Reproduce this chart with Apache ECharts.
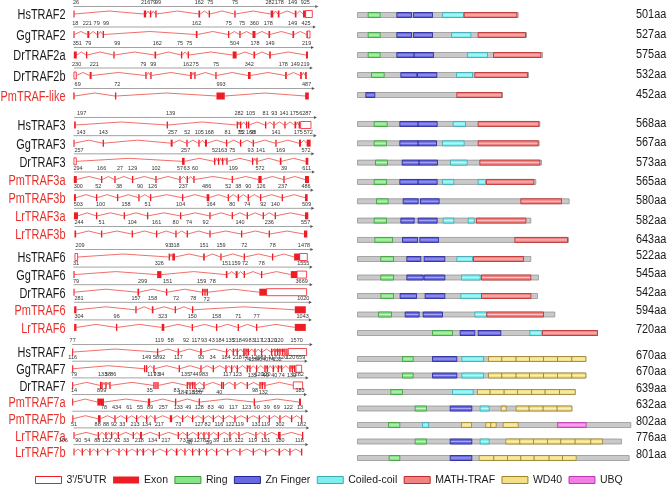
<!DOCTYPE html>
<html><head><meta charset="utf-8">
<script src="https://cdn.jsdelivr.net/npm/echarts@6/dist/echarts.min.js"></script>
<style>html,body{margin:0;padding:0;background:#fff}#c{width:669px;height:494px}</style>
</head><body><div id="c"></div><script>
const geneNames = ['HsTRAF2','GgTRAF2','DrTRAF2a','DrTRAF2b','PmTRAF-like','HsTRAF3','GgTRAF3','DrTRAF3','PmTRAF3a','PmTRAF3b','LrTRAF3a','LrTRAF3b','HsTRAF6','GgTRAF6','DrTRAF6','PmTRAF6','LrTRAF6','HsTRAF7','GgTRAF7','DrTRAF7','PmTRAF7a','PmTRAF7b','LrTRAF7a','LrTRAF7b'];
const familySizes = [5,7,5,7];
const proteinLength = [501,527,575,532,452,568,567,573,565,580,582,643,522,545,542,594,720,670,670,639,632,802,776,801];

// gene structure: exons [center, width] in relative gene position units
const exons = [
 [[222,3],[435,7],[452,4],[468,4],[598,5],[628,4],[705,4],[816,8],[836,5],[887,5],[913,8]],
 [[222,3],[265,6],[293,4],[310,4],[590,5],[686,4],[720,4],[762,9],[808,5],[880,5],[921,3]],
 [[226,9],[260,4],[342,4],[466,5],[545,4],[565,4],[704,12],[763,5],[810,5],[921,6]],
 [[272,6],[438,4],[453,4],[573,5],[585,4],[648,4],[748,8],[858,5],[903,5],[918,5]],
 [[222,4],[347,4],[662,25],[921,11]],
 [[225,5],[502,4],[712,4],[722,4],[740,4],[746,4],[797,4],[822,4],[855,4],[886,5],[898,4]],
 [[222,3],[310,4],[515,6],[561,4],[597,4],[618,6],[680,4],[722,4],[760,4],[828,4],[900,6],[926,12]],
 [[550,8],[644,4],[656,4],[668,4],[681,4],[758,4],[771,4],[842,5],[921,8]],
 [[226,9],[305,4],[345,4],[398,4],[468,4],[540,4],[562,4],[582,4],[697,4],[780,10],[852,4],[921,12]],
 [[225,6],[290,4],[353,4],[417,4],[452,4],[548,4],[624,8],[685,4],[715,4],[745,4],[782,4],[847,4],[919,8]],
 [[228,12],[290,4],[373,4],[443,4],[542,4],[630,4],[697,4],[742,4],[790,4],[826,4],[920,10]],
 [[226,5],[305,4],[397,4],[470,4],[528,4],[562,4],[630,4],[725,4],[808,4],[917,10]],
 [[508,4],[521,8],[612,5],[663,4],[733,4],[818,4],[891,17]],
 [[222,3],[478,13],[680,5],[710,6],[733,4],[785,4],[882,19]],
 [[222,3],[415,5],[500,4],[608,4],[615,4],[622,4],[789,22]],
 [[226,7],[408,4],[458,5],[526,4],[578,4],[901,33]],
 [[226,7],[350,4],[489,8],[577,4],[650,4],[715,4],[770,4],[901,33]],
 [[218,3],[473,4],[535,4],[603,5],[680,4],[700,4],[712,4],[732,5],[738,4],[745,5],[765,4],[785,4],[815,4],[825,4],[833,4],[840,4],[848,4],[855,4],[861,4]],
 [[218,3],[434,4],[440,4],[462,4],[538,4],[603,4],[640,4],[678,4],[695,4],[712,4],[742,4],[750,4],[770,4],[795,4],[802,4],[820,4],[835,4],[845,4],[870,4],[877,4],[884,4]],
 [[218,3],[302,4],[306,4],[318,4],[330,4],[462,4],[468,4],[474,4],[562,4],[570,4],[578,4],[585,4],[612,4],[665,4],[670,4],[705,4],[742,4],[780,4],[787,4],[795,4]],
 [[218,3],[302,20],[447,7],[527,4],[598,4],[763,4],[900,6]],
 [[218,2],[298,8],[345,4],[380,4],[410,4],[440,4],[465,4],[513,7],[548,4],[578,4],[610,4],[640,4],[670,4],[705,4],[742,4],[778,4],[808,4],[840,4],[875,4],[905,4]],
 [[222,3],[295,4],[318,4],[335,4],[355,4],[400,4],[423,6],[478,4],[535,4],[562,4],[595,4],[612,4],[627,4],[655,4],[690,4],[717,4],[768,4],[795,4],[838,8],[908,4]],
 [[222,3],[247,4],[270,4],[293,4],[323,4],[357,4],[380,4],[412,4],[430,5],[460,4],[500,4],[530,5],[555,4],[578,4],[598,4],[620,4],[650,4],[683,4],[720,4],[760,4],[797,4],[838,5],[870,4],[905,4]]
];
// untranslated regions [start, end]
const utrs = [
 [[917,937]],[[922,930]],[],[[222,229]],[],
 [[902,933]],[],[[222,229]],[],[],[],[],
 [[225,233],[899,922]],[[891,920]],[[800,920]],[],[],
 [[865,920]],[[888,905]],[[880,908]],[],[],[],[]
];
// exon size labels above the gene [position, text]
const topLabels = [
 [[228,'26'],[437,'216'],[459,'79'],[474,'99'],[598,'162'],[631,'75'],[705,'75'],[810,'282'],[838,'178'],[878,'149'],[916,'925']],
 [[226,'18'],[262,'221'],[290,'79'],[318,'99'],[590,'162'],[686,'75'],[726,'75'],[763,'360'],[805,'178'],[878,'149'],[918,'425']],
 [[232,'351'],[265,'79'],[352,'99'],[472,'162'],[540,'75'],[568,'75'],[704,'504'],[765,'178'],[810,'149'],[920,'219']],
 [[230,'230'],[283,'221'],[430,'79'],[460,'99'],[563,'162'],[587,'75'],[648,'75'],[748,'342'],[850,'178'],[886,'149'],[915,'219']],
 [[233,'69'],[352,'72'],[663,'993'],[920,'487']],
 [[245,'197'],[512,'139'],[717,'282'],[752,'105'],[797,'81'],[823,'93'],[852,'141'],[883,'175'],[916,'6287']],
 [[243,'143'],[310,'143'],[518,'257'],[562,'52'],[598,'105'],[628,'168'],[683,'81'],[722,'75'],[760,'93'],[828,'141'],[895,'175'],[925,'572']],
 [[237,'257'],[557,'257'],[645,'52'],[668,'163'],[697,'75'],[752,'93'],[782,'141'],[842,'169'],[918,'572']],
 [[234,'294'],[305,'166'],[360,'27'],[398,'129'],[468,'102'],[540,'57'],[560,'63'],[585,'60'],[700,'199'],[780,'572'],[852,'39'],[920,'611']],
 [[235,'300'],[295,'52'],[357,'38'],[420,'90'],[458,'126'],[550,'237'],[620,'486'],[685,'52'],[715,'38'],[745,'90'],[783,'126'],[848,'237'],[918,'486']],
 [[235,'503'],[302,'100'],[378,'158'],[443,'51'],[542,'104'],[633,'164'],[697,'80'],[742,'74'],[790,'92'],[826,'140'],[920,'509']],
 [[237,'244'],[305,'51'],[397,'104'],[470,'161'],[527,'80'],[567,'74'],[617,'92'],[720,'140'],[808,'236'],[917,'557']],
 [[240,'209'],[505,'93'],[525,'318'],[612,'151'],[663,'159'],[733,'72'],[818,'78'],[912,'1478']],
 [[228,'31'],[478,'326'],[680,'151'],[708,'159'],[735,'72'],[785,'78'],[910,'1555']],
 [[228,'79'],[428,'299'],[503,'151'],[605,'159'],[638,'78'],[905,'3669']],
 [[237,'281'],[408,'157'],[458,'158'],[528,'72'],[580,'78'],[910,'1020']],
 [[237,'304'],[350,'96'],[488,'323'],[577,'150'],[650,'158'],[715,'71'],[770,'77'],[908,'1043']],
 [[218,'77'],[478,'119'],[512,'58'],[558,'92'],[588,'117'],[612,'93'],[635,'43'],[660,'184'],[690,'135'],[712,'218'],[735,'49'],[755,'83'],[775,'117'],[797,'123'],[817,'120'],[837,'120'],[890,'1570']],
 [[218,'116'],[440,'149'],[468,'58'],[487,'92'],[535,'117'],[603,'93'],[638,'34'],[678,'184'],[712,'218'],[735,'74'],[767,'126'],[790,'83'],[818,'117'],[848,'120'],[872,'120'],[902,'659']],
 [[222,'79'],[308,'133'],[324,'58'],[340,'86'],[455,'117'],[470,'93'],[484,'34'],[557,'135'],[578,'74'],[596,'49'],[615,'83'],[682,'117'],[712,'123'],[777,'120'],[798,'120'],[893,'1282']],
 [[222,'14'],[305,'899'],[449,'35'],[530,'83'],[598,'122'],[765,'98'],[900,'183']],
 [[312,'78'],[350,'434'],[388,'61'],[420,'55'],[450,'89'],[490,'257'],[535,'133'],[565,'49'],[598,'128'],[632,'83'],[663,'40'],[700,'117'],[740,'123'],[770,'90'],[800,'39'],[830,'69'],[865,'122'],[900,'13']],
 [[222,'51'],[293,'88'],[318,'88'],[342,'92'],[367,'33'],[405,'213'],[440,'134'],[478,'217'],[535,'73'],[597,'127'],[623,'82'],[657,'116'],[690,'122'],[718,'119'],[768,'131'],[797,'119'],[840,'302'],[905,'182']],
 [[190,'106'],[235,'90'],[262,'54'],[292,'88'],[320,'122'],[352,'92'],[378,'33'],[418,'218'],[458,'134'],[498,'217'],[548,'73'],[570,'48'],[595,'127'],[618,'82'],[648,'39'],[682,'116'],[717,'122'],[758,'119'],[797,'131'],[840,'180'],[898,'118']]
];
// exon size labels below the gene
const bottomLabels = [
 [],[],[],[],[],
 [[725,'52'],[752,'168']],[],[],[],[],[],[],
 [],[],[[620,'72']],[],[],
 [[742,'74'],[760,'126'],[778,'40'],[796,'40'],[813,'74'],[832,'132']],
 [[757,'135'],[797,'49'],[823,'40'],[845,'74'],[875,'132']],
 [[548,'184'],[570,'218'],[592,'126'],[658,'40'],[790,'132']],
 [],[],[[567,'48'],[627,'39']],[]
];

// protein domain architecture (residue units along each drawn bar)
const proteinSpan = [482,507,555,513,435, 547,545,552,535,635,520,633, 520,543,540,592,720, 685,685,653,643,820,792,815];
const ringDomains = [[[32,68]],[[32,68]],[[32,68]],[[42,80]],[],
 [[50,89]],[[50,87]],[[54,90]],[[50,87]],[[57,92]],[[50,87]],[[52,105]],
 [[70,108]],[[70,108]],[[70,108]],[[63,102]],[[225,285]],
 [[135,167]],[[135,167]],[[100,135]],[[173,207]],[[93,127]],[[173,207]],[[95,127]]];
const znDomains = [[[118,162],[168,225]],[[118,162],[168,225]],[[118,170],[170,228]],[[130,178],[180,238]],[[25,52]],
 [[127,182],[182,239]],[[127,182],[182,237]],[[134,185],[185,240]],[[127,182],[182,239]],[[137,182],[189,245]],[[130,170],[182,239]],[[135,180],[187,243]],
 [[148,190],[200,262]],[[148,197],[200,262]],[[128,177],[203,262]],[[143,185],[197,255]],[[308,352],[362,430]],
 [[225,298]],[[225,298]],[],[[278,343]],[],[[278,343]],[[278,343]]];
const coiledCoil = [[[255,318]],[[282,340]],[[330,390]],[[297,345]],[],
 [[287,324]],[[255,320]],[[279,329]],[[255,289],[362,384]],[],[[257,289],[332,350]],[],
 [[298,345]],[[312,368]],[[310,372]],[[352,387]],[[517,553]],
 [[313,378]],[[313,378]],[[285,347]],[[368,395]],[[195,213]],[[368,395]],[]];
const mathTraf = [[[320,478]],[[362,504]],[[408,550]],[[352,510]],[[298,433]],
 [[362,544]],[[362,542]],[[367,547]],[[387,529]],[[490,612]],[[357,505]],[[472,630]],
 [[348,498]],[[372,520]],[[372,520]],[[388,558]],[[555,720]],
 [],[],[],[],[],[],[]];
const wd40Domains = [[],[],[],[],[], [],[],[],[],[],[],[], [],[],[],[],[],
 [[393,433],[433,476],[476,516],[516,558],[558,600],[600,643],[643,685]],
 [[393,433],[433,476],[476,516],[516,558],[558,600],[600,643],[643,685]],
 [[360,398],[398,440],[440,480],[480,522],[522,563],[563,606],[606,653]],
 [[431,446],[476,515],[515,557],[557,599],[599,643]],
 [[312,342],[385,400],[400,416],[437,482]],
 [[445,487],[487,528],[528,570],[570,610],[610,653],[653,700],[700,735]],
 [[365,409],[409,450],[450,490],[490,530],[530,575],[575,615],[615,656]]];
const ubqDomains = [[],[],[],[],[], [],[],[],[],[],[],[], [],[],[],[],[], [],[],[],[],[[600,686]],[],[]];

const FONT = "'Liberation Sans',Arial,sans-serif";
const RED = '#ee1c24';
const famStart = [];
familySizes.reduce((a,n,i)=>{famStart[i]=a;return a+n;},0);
const geneGridBox = [[3.75,102.5],[115.9,127.2],[248.2,88],[343.7,116.7]];
const protGridBox = [[5,100],[114.3,135.3],[249.75,92.5],[350.75,115.5]];

function famData(f){
  const out=[];
  for(let i=0;i<familySizes[f];i++) out.push([500,i,famStart[f]+i]);
  return out;
}

function nameRender(params, api){
  const gi = api.value(2), row = api.value(1);
  const y = api.coord([500,row])[1];
  const red = /^(Pm|Lr)/.test(geneNames[gi]);
  return {type:'text',x:65.5,y:y+1.5,scaleX:0.78,
    style:{text:geneNames[gi],x:0,y:0,align:'right',verticalAlign:'middle',fontSize:14,fontFamily:FONT,fill:red?'#e8302a':'#1a1a1a'}};
}
function geneRender(params, api){
  const gi = api.value(2), row = api.value(1);
  const y = api.coord([500,row])[1];
  const px = v => api.coord([v,row])[0];
  const feats = exons[gi].map(e=>[e[0]-e[1]/2,e[0]+e[1]/2])
     .concat(utrs[gi].map(u=>[u[0],u[1]])).sort((a,b)=>a[0]-b[0]);
  const start = feats[0][0], end = feats[feats.length-1][1];
  const ch = [];
  const ay = y - 7.5;
  const ax2 = px(end+9);
  ch.push({type:'line',shape:{x1:px(start),y1:ay,x2:ax2,y2:ay},style:{stroke:'#8c8c8c',lineWidth:0.8}});
  ch.push({type:'polygon',shape:{points:[[ax2,ay-1.6],[ax2+3,ay],[ax2,ay+1.6]]},style:{fill:'#555'}});
  for(let i=1;i<feats.length;i++){
    const a = feats[i-1][1], b = feats[i][0];
    if (b - a > 2){
      const xa=px(a), xb=px(b);
      ch.push({type:'polyline',shape:{points:[[xa,y],[(xa+xb)/2,y-3],[xb,y]]},style:{stroke:'#ec4a44',lineWidth:0.8,fill:null}});
    }
  }
  exons[gi].forEach(e=>{
    const x1=px(e[0]-e[1]/2), x2=px(e[0]+e[1]/2);
    ch.push({type:'rect',shape:{x:x1,y:y-3.5,width:Math.max(x2-x1,1.1),height:7},style:{fill:RED}});
  });
  topLabels[gi].forEach(l=>{
    ch.push({type:'text',style:{text:l[1],x:px(l[0]),y:ay-0.6,align:'center',verticalAlign:'bottom',fontSize:5.5,fill:'#333',fontFamily:FONT}});
  });
  bottomLabels[gi].forEach(l=>{
    ch.push({type:'text',style:{text:l[1],x:px(l[0]),y:y+4,align:'center',verticalAlign:'top',fontSize:5.5,fill:'#333',fontFamily:FONT}});
  });
  return {type:'group',children:ch};
}
function utrRender(params, api){
  const gi = api.value(2), row = api.value(1);
  const y = api.coord([500,row])[1];
  const px = v => api.coord([v,row])[0];
  return {type:'group',children:utrs[gi].map(u=>({type:'rect',shape:{x:px(u[0]),y:y-3.5,width:px(u[1])-px(u[0]),height:7},style:{fill:'#fff',stroke:RED,lineWidth:0.8}}))};
}
function barRender(params, api){
  const gi = api.value(2), row = api.value(1);
  const p0 = api.coord([0,row]), p1 = api.coord([proteinSpan[gi],row]);
  const lift = gi >= famStart[2] ? 3.5 : 0.5;
  return {type:'group',children:[
    {type:'rect',shape:{x:p0[0],y:p0[1]-2.5,width:p1[0]-p0[0],height:5},style:{fill:'#c9c9c9',stroke:'#8a8a8a',lineWidth:0.7}},
    {type:'text',x:636,y:p0[1]-lift,scaleX:0.87,style:{text:proteinLength[gi]+'aa',x:0,y:0,align:'left',verticalAlign:'middle',fontSize:12.5,fontFamily:FONT,fill:'#1a1a1a'}}
  ]};
}
function domainRender(arr, fill, stroke, light){
  return function(params, api){
    const gi = api.value(2), row = api.value(1);
    const ch=[];
    arr[gi].forEach(d=>{
      const a = api.coord([d[0],row]), b = api.coord([d[1],row]);
      ch.push({type:'rect',shape:{x:a[0],y:a[1]-2.5,width:b[0]-a[0],height:5},style:{fill:fill,stroke:stroke,lineWidth:0.8}});
      ch.push({type:'line',shape:{x1:a[0]+0.6,y1:a[1],x2:b[0]-0.6,y2:a[1]},style:{stroke:light,lineWidth:1}});
    });
    return {type:'group',children:ch};
  };
}

const domainTypes = [
  ['Ring', ringDomains, '#86e386', '#3c9c3c', '#c4f5c4'],
  ['Zn Finger', znDomains, '#6a6ae0', '#22229c', '#a8a8f4'],
  ['Coiled-coil', coiledCoil, '#7eeeee', '#3aaab4', '#c6fafa'],
  ['MATH-TRAF', mathTraf, '#f08484', '#c02a2a', '#fbc4c4'],
  ['WD40', wd40Domains, '#f3df88', '#9c8428', '#fbefc2'],
  ['UBQ', ubqDomains, '#f07ee4', '#c038b0', '#f9c4f2']
];

const grid=[], xAxis=[], yAxis=[], series=[];
for(let f=0;f<4;f++){
  grid.push({left:73.3,width:240,top:geneGridBox[f][0],height:geneGridBox[f][1],outerBoundsMode:'none',containLabel:false});
}
for(let f=0;f<4;f++){
  grid.push({left:357.5,width:276.5,top:protGridBox[f][0],height:protGridBox[f][1],outerBoundsMode:'none',containLabel:false});
}
for(let f=0;f<4;f++){
  const names = geneNames.slice(famStart[f],famStart[f]+familySizes[f]);
  xAxis.push({gridIndex:f,type:'value',min:220,max:940,show:false});
  yAxis.push({gridIndex:f,type:'category',inverse:true,data:names,show:false});
}
for(let f=0;f<4;f++){
  const names = geneNames.slice(famStart[f],famStart[f]+familySizes[f]);
  xAxis.push({gridIndex:4+f,type:'value',min:0,max:829.5,show:false});
  yAxis.push({gridIndex:4+f,type:'category',inverse:true,data:names,show:false});
}
for(let f=0;f<4;f++){
  series.push({type:'custom',name:'names',xAxisIndex:f,yAxisIndex:f,data:famData(f),renderItem:nameRender,
    encode:{x:0,y:1},silent:true,clip:false});
  series.push({type:'custom',name:"3'/5'UTR",xAxisIndex:f,yAxisIndex:f,data:famData(f),renderItem:utrRender,
    itemStyle:{color:'#fff',borderColor:RED},encode:{x:0,y:1},silent:true,clip:false});
  series.push({type:'custom',name:'Exon',xAxisIndex:f,yAxisIndex:f,data:famData(f),renderItem:geneRender,
    itemStyle:{color:RED},encode:{x:0,y:1},silent:true,z:3,clip:false});
  series.push({type:'custom',name:'protein',xAxisIndex:4+f,yAxisIndex:4+f,data:famData(f),renderItem:barRender,
    itemStyle:{color:'#c9c9c9'},encode:{x:0,y:1},silent:true,clip:false});
  domainTypes.forEach(d=>{
    series.push({type:'custom',name:d[0],xAxisIndex:4+f,yAxisIndex:4+f,data:famData(f),renderItem:domainRender(d[1],d[2],d[3],d[4]),
      itemStyle:{color:d[2]},encode:{x:0,y:1},silent:true,z:3,clip:false});
  });
}

const legendItems = [
  {name:"3'/5'UTR",itemStyle:{color:'#fff',borderColor:RED,borderWidth:1}},
  {name:'Exon',itemStyle:{color:RED,borderWidth:0}},
  {name:'Ring',itemStyle:{color:'#86e386',borderColor:'#3c9c3c',borderWidth:1}},
  {name:'Zn Finger',itemStyle:{color:'#6a6ae0',borderColor:'#22229c',borderWidth:1}},
  {name:'Coiled-coil',itemStyle:{color:'#7eeeee',borderColor:'#3aaab4',borderWidth:1}},
  {name:'MATH-TRAF',itemStyle:{color:'#f08484',borderColor:'#c02a2a',borderWidth:1}},
  {name:'WD40',itemStyle:{color:'#f3df88',borderColor:'#9c8428',borderWidth:1}},
  {name:'UBQ',itemStyle:{color:'#f07ee4',borderColor:'#c038b0',borderWidth:1}}
];

const chart = echarts.init(document.getElementById('c'),null,{renderer:'canvas'});
chart.setOption({
  animation:false,
  backgroundColor:'#fff',
  grid, xAxis, yAxis, series,
  legend:{data:legendItems,icon:'rect',left:30,top:469.5,itemWidth:26,itemHeight:7,itemGap:6.4,
    selectedMode:false,textStyle:{fontSize:10.5,fontFamily:FONT,color:'#1a1a1a'}},
  tooltip:{show:false}
});
</script></body></html>
